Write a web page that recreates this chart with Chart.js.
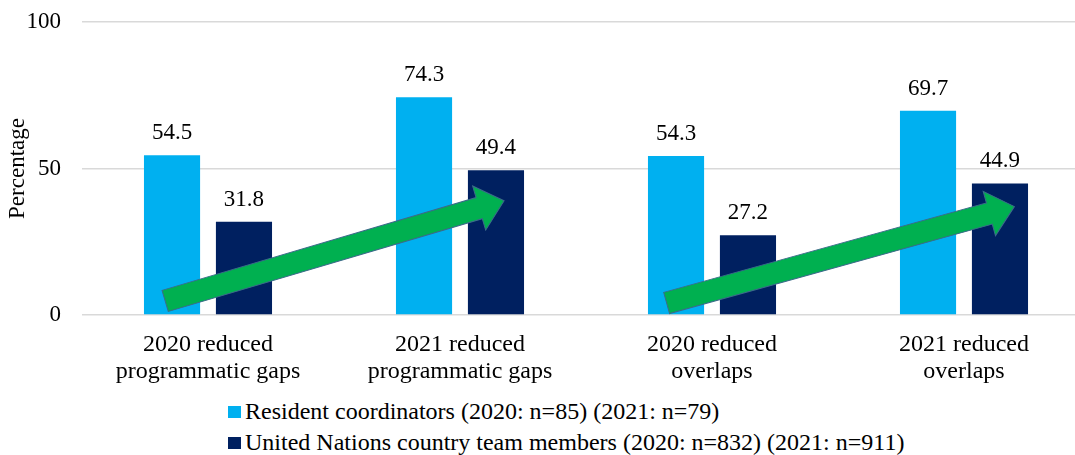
<!DOCTYPE html>
<html lang="en">
<head>
  <meta charset="UTF-8">
  <title>Reduced gaps and overlaps</title>
  <style>
    html, body { margin: 0; padding: 0; background: #fff; overflow: hidden; }
    #wrap { position: relative; width: 1090px; height: 455px; }
    #chart-box { position: absolute; left: 0; top: 0; width: 1090px; height: 390px; }
    .legend { position: absolute; left: 228px; font-family: "Liberation Serif", "Times New Roman", serif; font-size: 24px; line-height: 28px; color: #000; white-space: nowrap; }
    .legend span.box { display: inline-block; width: 13px; height: 12px; margin-right: 4px; vertical-align: 1px; }
  </style>
  <script src="https://cdn.jsdelivr.net/npm/chart.js"></script>
</head>
<body>
  <div id="wrap">
    <div id="chart-box"><canvas id="barChart"></canvas></div>
    <div class="legend" id="leg1" style="top:397px"></div>
    <div class="legend" id="leg2" style="top:428px"></div>
  </div>
  <script>
    const categories = [
      ['2020 reduced', 'programmatic gaps'],
      ['2021 reduced', 'programmatic gaps'],
      ['2020 reduced', 'overlaps'],
      ['2021 reduced', 'overlaps']
    ];
    const residentCoordinators = [54.5, 74.3, 54.3, 69.7];
    const countryTeamMembers = [31.8, 49.4, 27.2, 44.9];
    const seriesNames = [
      'Resident coordinators (2020: n=85) (2021: n=79)',
      'United Nations country team members (2020: n=832) (2021: n=911)'
    ];
    const seriesColors = ['#00B0F0', '#002060'];
    const yTicks = [0, 50, 100];
    // green arrows, in data units (x = category index, y = percentage)
    const arrows = [
      { x0: -0.17, y0: 4.8, x1: 1.175, y1: 39.0 },
      { x0: 1.82, y0: 4.1, x1: 3.2, y1: 37.0 }
    ];

    const serif = '"Liberation Serif", "Times New Roman", serif';

    // legend as html, two left aligned rows
    ['leg1', 'leg2'].forEach((id, i) => {
      document.getElementById(id).innerHTML =
        `<span class="box" style="background:${seriesColors[i]}"></span>${seriesNames[i]}`;
    });

    const valueLabels = {
      id: 'valueLabels',
      afterDatasetsDraw(chart) {
        const ctx = chart.ctx;
        ctx.save();
        ctx.font = '23px ' + serif;
        ctx.fillStyle = '#000';
        ctx.textAlign = 'center';
        ctx.textBaseline = 'alphabetic';
        chart.data.datasets.forEach((ds, di) => {
          chart.getDatasetMeta(di).data.forEach((bar, i) => {
            ctx.fillText(ds.data[i].toFixed(1), bar.x, bar.y - 16);
          });
        });
        ctx.restore();
      }
    };

    const greenArrows = {
      id: 'greenArrows',
      afterDatasetsDraw(chart) {
        const ctx = chart.ctx;
        const xs = chart.scales.x, ys = chart.scales.y;
        const shaft = 22, headW = 46, headL = 26;
        arrows.forEach(a => {
          const x0 = xs.getPixelForValue(a.x0), y0 = ys.getPixelForValue(a.y0);
          const x1 = xs.getPixelForValue(a.x1), y1 = ys.getPixelForValue(a.y1);
          const len = Math.hypot(x1 - x0, y1 - y0);
          const ang = Math.atan2(y1 - y0, x1 - x0);
          ctx.save();
          ctx.translate(x0, y0);
          ctx.rotate(ang);
          ctx.beginPath();
          ctx.moveTo(0, -shaft / 2);
          ctx.lineTo(len - headL, -shaft / 2);
          ctx.lineTo(len - headL, -headW / 2);
          ctx.lineTo(len, 0);
          ctx.lineTo(len - headL, headW / 2);
          ctx.lineTo(len - headL, shaft / 2);
          ctx.lineTo(0, shaft / 2);
          ctx.closePath();
          ctx.fillStyle = '#00B050';
          ctx.fill();
          ctx.lineWidth = 1;
          ctx.strokeStyle = '#3B6A8A';
          ctx.stroke();
          ctx.restore();
        });
      }
    };

    new Chart(document.getElementById('barChart'), {
      type: 'bar',
      data: {
        labels: categories,
        datasets: [
          { label: seriesNames[0], data: residentCoordinators, backgroundColor: seriesColors[0] },
          { label: seriesNames[1], data: countryTeamMembers, backgroundColor: seriesColors[1] }
        ]
      },
      options: {
        responsive: true,
        maintainAspectRatio: false,
        animation: false,
        categoryPercentage: 0.571,
        barPercentage: 0.78,
        layout: { padding: { top: 22, right: 0, left: 0, bottom: 0 } },
        plugins: {
          legend: { display: false },
          tooltip: { enabled: false }
        },
        scales: {
          x: {
            grid: { display: false },
            border: { display: false },
            ticks: {
              color: '#000',
              font: { family: serif, size: 24, lineHeight: 1.12 },
              padding: 8,
              maxRotation: 0,
              autoSkip: false
            },
            afterFit(scale) { scale.height = 75; }
          },
          y: {
            min: 0,
            max: 100,
            afterBuildTicks(scale) { scale.ticks = yTicks.map(v => ({ value: v })); },
            grid: { color: '#d9d9d9', lineWidth: 1.5, drawTicks: false },
            border: { display: false },
            ticks: {
              color: '#000',
              font: { family: serif, size: 23 },
              padding: 21
            },
            title: {
              display: true,
              text: 'Percentage',
              color: '#000',
              font: { family: serif, size: 23 },
              padding: { top: 4 }
            },
            afterFit(scale) {
              scale.width = 82;
              scale.paddingTop = 0;
              scale.paddingBottom = 0;
            }
          }
        }
      },
      plugins: [greenArrows, valueLabels]
    });
  </script>
</body>
</html>
